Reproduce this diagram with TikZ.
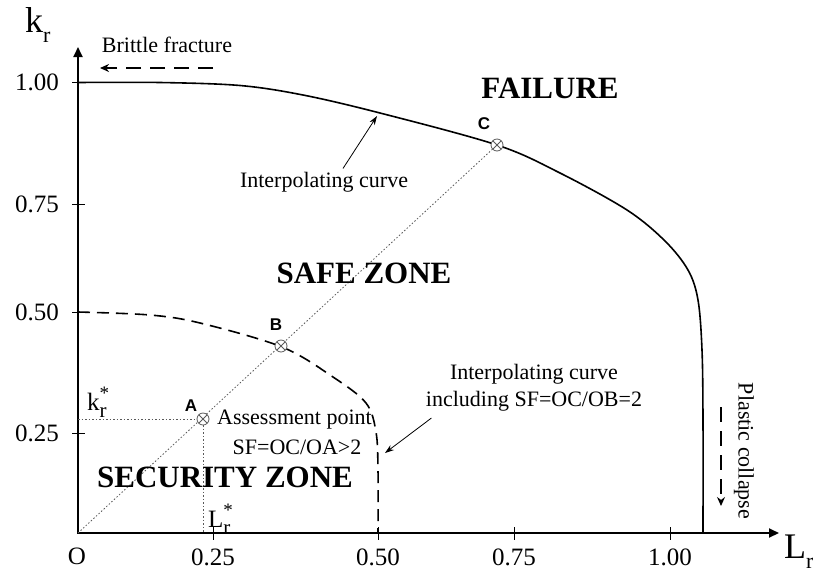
\documentclass[tikz,border=0pt]{standalone}
\usepackage{fontspec}
\setmainfont{Liberation Serif}
\newfontfamily\labelfont{Liberation Sans}
\usetikzlibrary{arrows.meta,positioning}

\newcommand\starsub[1]{#1\rlap{\raisebox{11pt}{\fontsize{19}{19}\selectfont*}}\raisebox{-7pt}{\fontsize{21}{21}\selectfont r}}
\newcommand\axsub[1]{#1\raisebox{-10pt}{\fontsize{22}{24}\selectfont r}}

\begin{document}
\begin{tikzpicture}[
    x=1pt, y=-1pt,
    font=\fontsize{22}{27}\selectfont,
    axis/.style={line width=1.8pt, line join=miter, {Triangle[length=10pt,width=9pt]}-{Triangle[length=10pt,width=9pt]}},
    tick/.style={font=\fontsize{25}{27}\selectfont},
    axlabel/.style={font=\fontsize{36}{38}\selectfont, anchor=base west, inner sep=0pt},
    zone/.style={font=\fontsize{31}{33}\selectfont\bfseries},
    fad/.style={line width=1.6pt},
    fadsafe/.style={line width=1.6pt, dash pattern=on 12pt off 7pt},
    ray/.style={gray!70!black, line width=0.8pt, dash pattern=on 1.5pt off 2pt},
    xpt/.style={circle, draw=gray!70!black, fill=white, line width=0.8pt, minimum size=12pt, inner sep=0pt,
        path picture={\draw[gray!70!black, line width=0.8pt]
            (path picture bounding box.north west) -- (path picture bounding box.south east)
            (path picture bounding box.north east) -- (path picture bounding box.south west);}},
    ptlabel/.style={font=\labelfont\bfseries\fontsize{17}{19}\selectfont},
    pointer/.style={-{Stealth[length=9pt,width=6pt]}, line width=0.8pt},
    trend/.style={-{Stealth[length=9pt,width=8pt]}, line width=1.5pt, dash pattern=on 15pt off 9pt}
]
\useasboundingbox (0,0) rectangle (813,574);

\coordinate (O) at (78,533);
\coordinate (xend) at (779,533);
\coordinate (yend) at (78,47);
\draw[axis] (yend) -- (O) -- (xend);

\node[axlabel] (kr) at (25,32) {\axsub{k}};
\node[axlabel] (Lr) at (784,558) {\axsub{L}};
\node[tick] (orig) at (77,556) {O};

\foreach \y/\t in {82/1.00,204/0.75,312/0.50,433/0.25} {
    \draw[line width=0.8pt] (72,\y) -- (85,\y);
    \node[tick, anchor=east, inner sep=0pt] at (59,\y) {\t};
}
\foreach \x/\t in {213/0.25,378/0.50,514/0.75,670/1.00} {
    \draw[line width=0.8pt] (\x,527) -- (\x,540);
    \node[tick] at (\x,557) {\t};
}

% failure assessment curve and the SF=2 curve
\draw[fad] plot[smooth, tension=0.55] coordinates {(78,82.5) (160,82.5) (240,85.5) (303,95) (380,113)
    (497,145) (560,173) (627,210) (665,241) (688,270) (698,300) (702,350) (703,420) (703,533)};
\draw[fadsafe] plot[smooth, tension=0.55] coordinates {(78,312) (150,315) (200,323) (282,347)
    (333,377) (366,403) (376,432) (378,470) (378,533)};

\coordinate (c) at (497,145);
\coordinate (kstar) at (78,419);
\coordinate (Lstar) at (203,533);
\draw[ray] (O) -- (c);
\node[xpt] (A) at (203,419) {};
\node[xpt] (B) at (281,346) {};
\node[xpt] (C) at (c) {};
\draw[ray] (kstar) -- (A);
\draw[ray] (A) -- (Lstar);

\node[ptlabel] at (191,406) {A};
\node[ptlabel] at (276,325) {B};
\node[ptlabel] at (484,124) {C};

\node[tick, anchor=base west, inner sep=0pt] (kslab) at (87,410) {\starsub{k}};
\node[tick, anchor=base west, inner sep=0pt] (Lslab) at (208,527) {\starsub{L}};

\node[anchor=west, inner sep=0pt] (ap) at (217,420) {Assessment point};
\node[inner sep=0pt] (sfa) at (297,447) {SF=OC/OA>2};

\node[zone] (secz) at (225,477) {SECURITY ZONE};
\node[zone] (safez) at (364,273) {SAFE ZONE};
\node[zone] (fail) at (550,88) {FAILURE};

\node (ic1) at (324,182) {Interpolating curve};
\coordinate (ictip) at (377,116);
\draw[pointer] ([xshift=19pt]ic1.north) -- (ictip);

\node[align=center] (ic2) at (534,388) {Interpolating curve\\including SF=OC/OB=2};
\coordinate (ic2tip) at (385,453);
\draw[pointer] ([xshift=9pt,yshift=-3pt]ic2.south west) -- (ic2tip);

\node (bf) at (167,45) {Brittle fracture};
\coordinate (bf0) at (213,68);
\coordinate (bf1) at (100,68);
\draw[trend] (bf0) -- (bf1);

\node[rotate=-90] (pc) at (744,451) {Plastic collapse};
\coordinate (pc0) at (721,407);
\coordinate (pc1) at (721,506);
\draw[trend] (pc0) -- (pc1);
\end{tikzpicture}
\end{document}
